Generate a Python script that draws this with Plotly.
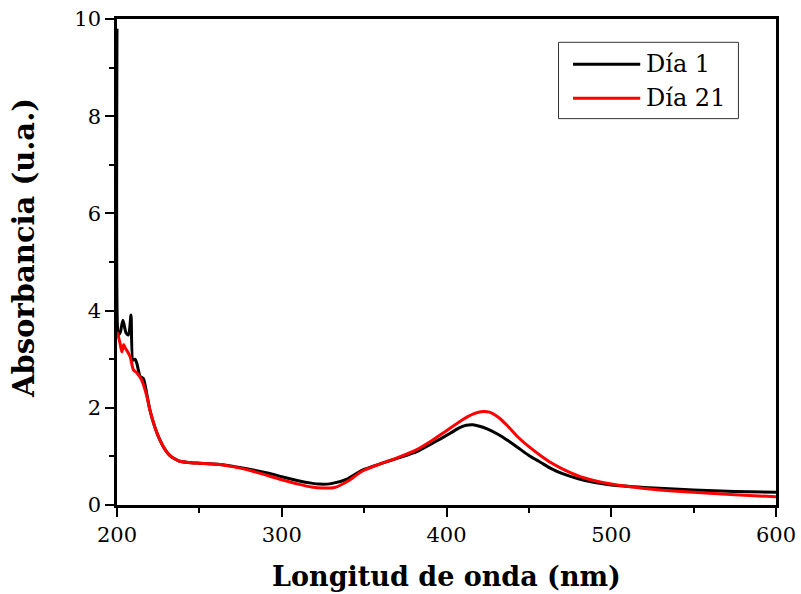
import plotly.graph_objects as go

# UV-Vis absorption spectra (wavelength in nm, absorbance in a.u.)
wl_dia1 = [200, 200.4, 201, 202, 203.6, 205.5, 207, 208.5, 209.7, 211, 212, 214, 216, 218, 220,
           223, 226, 229, 232, 235, 238, 245, 250, 261, 270, 281, 287, 295, 300, 310, 318,
           323, 330, 340, 349, 361, 370, 382, 392, 402, 408, 412, 416, 420, 425, 432, 437, 443,
           450, 457, 463, 470, 480, 490, 500, 520, 550, 575, 600]
abs_dia1 = [9.8, 3.6, 3.5, 3.55, 3.8, 3.54, 3.5, 3.91, 2.98, 3.0, 2.92, 2.65, 2.6, 2.3, 1.95,
            1.6, 1.34, 1.15, 1.02, 0.95, 0.9, 0.87, 0.86, 0.84, 0.8, 0.73, 0.69, 0.63, 0.58, 0.5, 0.45,
            0.43, 0.44, 0.54, 0.72, 0.86, 0.96, 1.1, 1.28, 1.47, 1.59, 1.64, 1.65, 1.62, 1.56, 1.44, 1.33, 1.19,
            1.02, 0.88, 0.76, 0.65, 0.54, 0.46, 0.41, 0.36, 0.31, 0.28, 0.26]

wl_dia21 = [200, 201, 202, 203, 204, 205, 206.5, 208, 210, 212, 215, 218, 220, 223, 226, 229,
            232, 235, 238, 245, 250, 261, 270, 281, 290, 300, 310, 318, 325, 332, 340, 349,
            361, 370, 382, 390, 400, 410, 416, 421, 426, 432, 437, 443, 450, 457, 463, 470,
            480, 490, 500, 520, 550, 575, 600]
abs_dia21 = [3.56, 3.45, 3.3, 3.15, 3.3, 3.23, 3.15, 3.05, 2.78, 2.72, 2.57, 2.25, 1.95, 1.6, 1.34, 1.15,
             1.02, 0.95, 0.9, 0.87, 0.86, 0.84, 0.79, 0.71, 0.62, 0.52, 0.43, 0.37, 0.35, 0.36, 0.49, 0.7,
             0.86, 0.97, 1.14, 1.3, 1.53, 1.76, 1.87, 1.92, 1.91, 1.79, 1.63, 1.41, 1.2, 1.02, 0.88, 0.75,
             0.6, 0.5, 0.43, 0.34, 0.26, 0.21, 0.17]

series_names = ["Día 1", "Día 21"]
series_colors = ["#000000", "#ff0000"]

FONT = "DejaVu Serif"

fig = go.Figure()
for wl, ab, name, col in zip([wl_dia1, wl_dia21], [abs_dia1, abs_dia21], series_names, series_colors):
    fig.add_trace(go.Scatter(x=wl, y=ab, mode="lines", name=name,
                             line=dict(color=col, width=3, shape="spline", smoothing=0.7),
                             showlegend=False))

# Boxed legend drawn in paper coordinates
lx0, lx1, ly0, ly1 = 0.670, 0.943, 0.795, 0.952
fig.add_shape(type="rect", xref="paper", yref="paper", x0=lx0, x1=lx1, y0=ly0, y1=ly1,
              line=dict(color="#333333", width=1), fillcolor="white")
rows = [0.907, 0.837]
for yy, name, col in zip(rows, series_names, series_colors):
    fig.add_shape(type="line", xref="paper", yref="paper", x0=0.692, x1=0.794, y0=yy, y1=yy,
                  line=dict(color=col, width=3))
    fig.add_annotation(xref="paper", yref="paper", x=0.800, y=yy, text=name, showarrow=False,
                       xanchor="left", yanchor="middle", font=dict(family=FONT, size=24, color="black"))

# Vertical axis title, placed as an annotation
fig.add_annotation(xref="paper", yref="paper", x=-0.141, y=0.529, text="<b>Absorbancia (u.a.)</b>",
                   textangle=-90, showarrow=False, xanchor="center", yanchor="middle",
                   font=dict(family=FONT, size=29, color="black"))

axis_common = dict(showline=True, linecolor="black", linewidth=2.5, mirror=True,
                   ticks="outside", ticklen=9, tickwidth=2, tickcolor="black",
                   showgrid=False, zeroline=False, automargin=False,
                   tickfont=dict(family=FONT, size=21, color="black"))

fig.update_xaxes(range=[200, 600], dtick=100, tick0=200,
                 minor=dict(ticks="outside", ticklen=5, tickwidth=2, tickcolor="black", dtick=50),
                 title=dict(text="<b>Longitud de onda (nm)</b>", standoff=22,
                            font=dict(family=FONT, size=27, color="black")),
                 **axis_common)
fig.update_yaxes(range=[0, 10], dtick=2, tick0=0,
                 minor=dict(ticks="outside", ticklen=5, tickwidth=2, tickcolor="black", dtick=1),
                 **axis_common)

fig.update_layout(width=801, height=594, margin=dict(l=117, r=25, t=19, b=89),
                  plot_bgcolor="white", paper_bgcolor="white", showlegend=False)

fig.write_html("out.html")
